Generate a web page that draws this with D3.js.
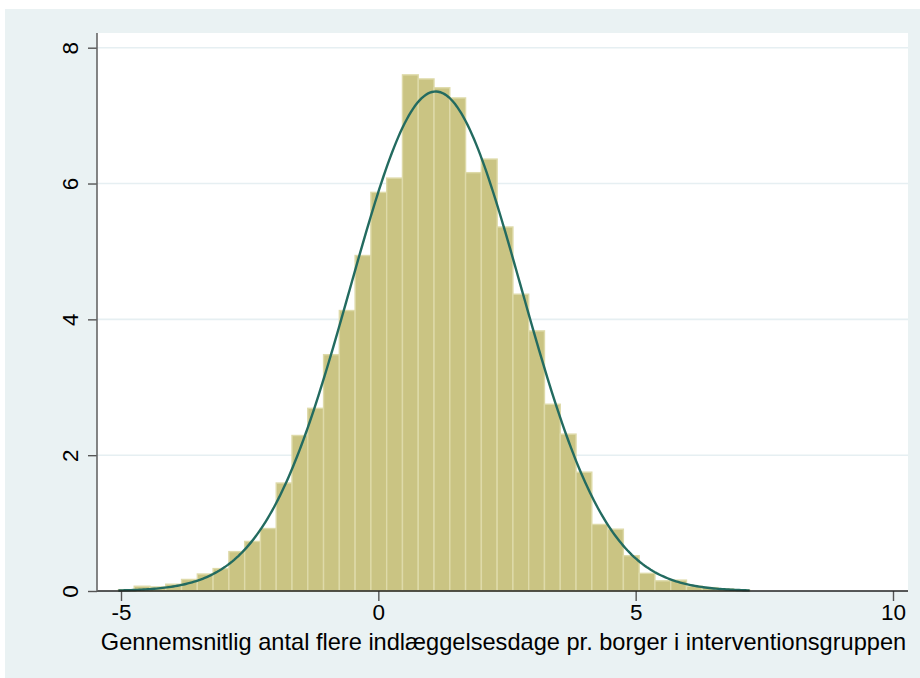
<!DOCTYPE html>
<html>
<head>
<meta charset="utf-8">
<script src="https://cdn.jsdelivr.net/npm/d3@7"></script>
<style>
  html, body { margin: 0; padding: 0; background: #ffffff; }
  svg { display: block; }
  text { font-family: "Liberation Sans", Arial, sans-serif; fill: #000; }
</style>
</head>
<body>
<svg id="chart" width="920" height="678"></svg>
<script>
// ---- data ----
const binStart = -5.05;       // lower edge of first bin
const binWidth = 0.3066;      // bin width
const percents = [
  0.02, 0.07, 0.06, 0.10, 0.17, 0.25, 0.33, 0.58, 0.73, 0.92,
  1.59, 2.29, 2.69, 3.48, 4.13, 4.94, 5.87, 6.08, 7.60, 7.54,
  7.41, 7.26, 6.16, 6.36, 5.36, 4.37, 3.83, 2.75, 2.31, 1.75,
  0.98, 0.91, 0.52, 0.26, 0.15, 0.16, 0.07, 0.05, 0.03, 0.015
];
const normalMean = 1.115;     // fitted normal overlay
const normalSd = 1.663;
const xTicks = [-5, 0, 5, 10];
const yTicks = [0, 2, 4, 6, 8];
const yGrid = [2, 4, 6, 8];
const xTitle = "Gennemsnitlig antal flere indlæggelsesdage pr. borger i interventionsgruppen";

// ---- layout ----
const svg = d3.select("#chart");
const plot = { left: 97, right: 908, top: 33, bottom: 591 };

svg.append("rect").attr("x", 5).attr("y", 9).attr("width", 915).attr("height", 669)
  .attr("fill", "#EAF2F3");
svg.append("rect").attr("x", plot.left).attr("y", plot.top)
  .attr("width", plot.right - plot.left).attr("height", plot.bottom - plot.top)
  .attr("fill", "#ffffff");

const x = d3.scaleLinear().domain([-5, 10]).range([121, 893]);
const y = d3.scaleLinear().domain([0, 8]).range([591, 47.7]);

// grid
svg.append("g").selectAll("line").data(yGrid).join("line")
  .attr("x1", plot.left).attr("x2", plot.right)
  .attr("y1", d => y(d)).attr("y2", d => y(d))
  .attr("stroke", "#E6EFF2").attr("stroke-width", 1.6);

// bars
const bins = percents.map((p, i) => ({ x0: binStart + i * binWidth, x1: binStart + (i + 1) * binWidth, v: p }));
svg.append("g").selectAll("rect").data(bins).join("rect")
  .attr("x", d => x(d.x0))
  .attr("width", d => x(d.x1) - x(d.x0))
  .attr("y", d => y(d.v))
  .attr("height", d => y(0) - y(d.v))
  .attr("fill", "#CAC483")
  .attr("stroke", "#DEDAA9")
  .attr("stroke-width", 1.4);

// normal curve
const xmin = binStart, xmax = binStart + percents.length * binWidth;
const curvePts = d3.range(0, 301).map(i => xmin + (xmax - xmin) * i / 300);
const dens = v => 100 * binWidth * Math.exp(-0.5 * Math.pow((v - normalMean) / normalSd, 2)) / (normalSd * Math.sqrt(2 * Math.PI));
svg.append("path")
  .datum(curvePts)
  .attr("d", d3.line().x(d => x(d)).y(d => y(dens(d))).curve(d3.curveLinear))
  .attr("fill", "none")
  .attr("stroke", "#236B60")
  .attr("stroke-width", 2.4);

// x axis
const xAxis = svg.append("g").attr("transform", `translate(0,${plot.bottom})`)
  .call(d3.axisBottom(x).tickValues(xTicks).tickSize(10).tickPadding(3).tickFormat(d => String(d)));
xAxis.select(".domain").remove();
xAxis.selectAll(".tick line").attr("stroke", "#555").attr("stroke-width", 1.4);
xAxis.selectAll(".tick text").attr("font-size", 22.5).attr("fill", "#000")
  .attr("font-family", "Liberation Sans, Arial, sans-serif");
svg.append("line").attr("x1", plot.left).attr("x2", plot.right)
  .attr("y1", plot.bottom).attr("y2", plot.bottom)
  .attr("stroke", "#222").attr("stroke-width", 1.4);

// y axis
const yAxis = svg.append("g").attr("transform", `translate(${plot.left},0)`)
  .call(d3.axisLeft(y).tickValues(yTicks).tickSize(9).tickFormat(d => String(d)));
yAxis.select(".domain").remove();
yAxis.selectAll(".tick line").attr("stroke", "#555").attr("stroke-width", 1.4);
yAxis.selectAll(".tick text")
  .attr("x", null).attr("dy", null)
  .attr("text-anchor", "middle")
  .attr("transform", "translate(-19,0) rotate(-90)")
  .attr("y", 0)
  .attr("font-size", 22.5).attr("fill", "#000")
  .attr("font-family", "Liberation Sans, Arial, sans-serif");
svg.append("line").attr("x1", plot.left).attr("x2", plot.left)
  .attr("y1", plot.top).attr("y2", plot.bottom)
  .attr("stroke", "#666").attr("stroke-width", 1.6);

// x title
svg.append("text")
  .attr("x", (plot.left + plot.right) / 2 + 1)
  .attr("y", 650)
  .attr("text-anchor", "middle")
  .attr("font-size", 23.6)
  .text(xTitle);
</script>
</body>
</html>
